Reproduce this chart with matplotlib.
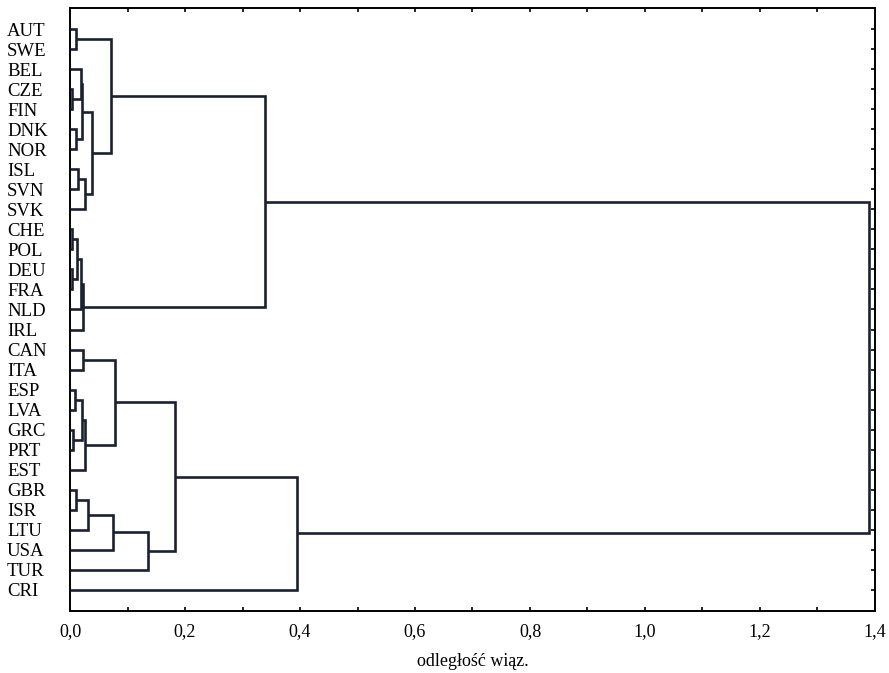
import matplotlib
matplotlib.use("Agg")
import matplotlib.pyplot as plt
from matplotlib.ticker import MultipleLocator, FuncFormatter

# Leaf labels, top to bottom
labels = ["AUT", "SWE", "BEL", "CZE", "FIN", "DNK", "NOR", "ISL", "SVN", "SVK",
          "CHE", "POL", "DEU", "FRA", "NLD", "IRL",
          "CAN", "ITA", "ESP", "LVA", "GRC", "PRT", "EST",
          "GBR", "ISR", "LTU", "USA", "TUR", "CRI"]

# Merges: (name of new cluster, left child, right child, linkage distance)
merge_names = ["c1", "c2", "c3", "c4", "c5", "c6", "c7", "c8", "c9", "c10",
               "c11", "c12", "c13", "c14", "c15",
               "c16", "c17", "c18", "c19", "c20", "c21", "c22",
               "c23", "c24", "c25", "c26", "c27", "c28"]
merge_left = ["AUT", "CZE", "BEL", "DNK", "c3", "ISL", "c6", "c5", "c1", "CHE",
              "DEU", "c10", "c12", "c13", "c9",
              "CAN", "ESP", "GRC", "c17", "c19", "c16", "GBR",
              "c22", "c23", "c24", "c21", "c26", "c15"]
merge_right = ["SWE", "FIN", "c2", "NOR", "c4", "SVN", "SVK", "c7", "c8", "POL",
               "FRA", "c11", "NLD", "IRL", "c14",
               "ITA", "LVA", "PRT", "c18", "EST", "c20", "ISR",
               "LTU", "USA", "TUR", "c25", "CRI", "c27"]
merge_dist = [0.0104, 0.0040, 0.0186, 0.0104, 0.0210, 0.0144, 0.0260, 0.0377, 0.0708, 0.0030,
              0.0030, 0.0127, 0.0186, 0.0221, 0.3390,
              0.0221, 0.0087, 0.0047, 0.0200, 0.0260, 0.0780, 0.0104,
              0.0310, 0.0740, 0.1365, 0.1830, 0.3940, 1.3900]

line_col = "#1b2130"
font = "Liberation Serif"

fig = plt.figure(figsize=(8.89, 6.73), dpi=100)
ax = fig.add_axes([70 / 889, 1 - 611 / 673, 805 / 889, 603 / 673])

pos = {lab: float(i) for i, lab in enumerate(labels)}
hgt = {lab: 0.0 for lab in labels}
for name, a, b, d in zip(merge_names, merge_left, merge_right, merge_dist):
    ya, yb = pos[a], pos[b]
    ax.plot([hgt[a], d, d, hgt[b]], [ya, ya, yb, yb], color=line_col,
            lw=1.9, solid_joinstyle="miter", solid_capstyle="butt", zorder=3)
    pos[name] = (ya + yb) / 2
    hgt[name] = d

ax.set_xlim(0, 1.4)
ax.set_ylim(len(labels) - 1 + 1.05, -1.05)
ax.set_yticks(range(len(labels)))
ax.set_yticklabels(labels, fontfamily=font, fontsize=13.5, ha="left")
ax.xaxis.set_major_locator(MultipleLocator(0.2))
ax.xaxis.set_minor_locator(MultipleLocator(0.1))
ax.xaxis.set_major_formatter(FuncFormatter(lambda v, p: f"{v:.1f}".replace(".", ",")))
for lab in ax.get_xticklabels():
    lab.set_fontfamily(font)
    lab.set_fontsize(13)
ax.tick_params(axis="both", which="both", direction="in", length=3, width=1.2,
               top=True, right=True, colors="black")
ax.tick_params(axis="x", which="major", pad=9)
ax.tick_params(axis="y", which="major", pad=63 * 72 / 100, left=False)
for s in ax.spines.values():
    s.set_linewidth(1.4)
    s.set_color("black")
ax.set_xlabel("odległość wiąz.", fontfamily=font, fontsize=13, labelpad=9)

fig.savefig("out.png", dpi=100)
